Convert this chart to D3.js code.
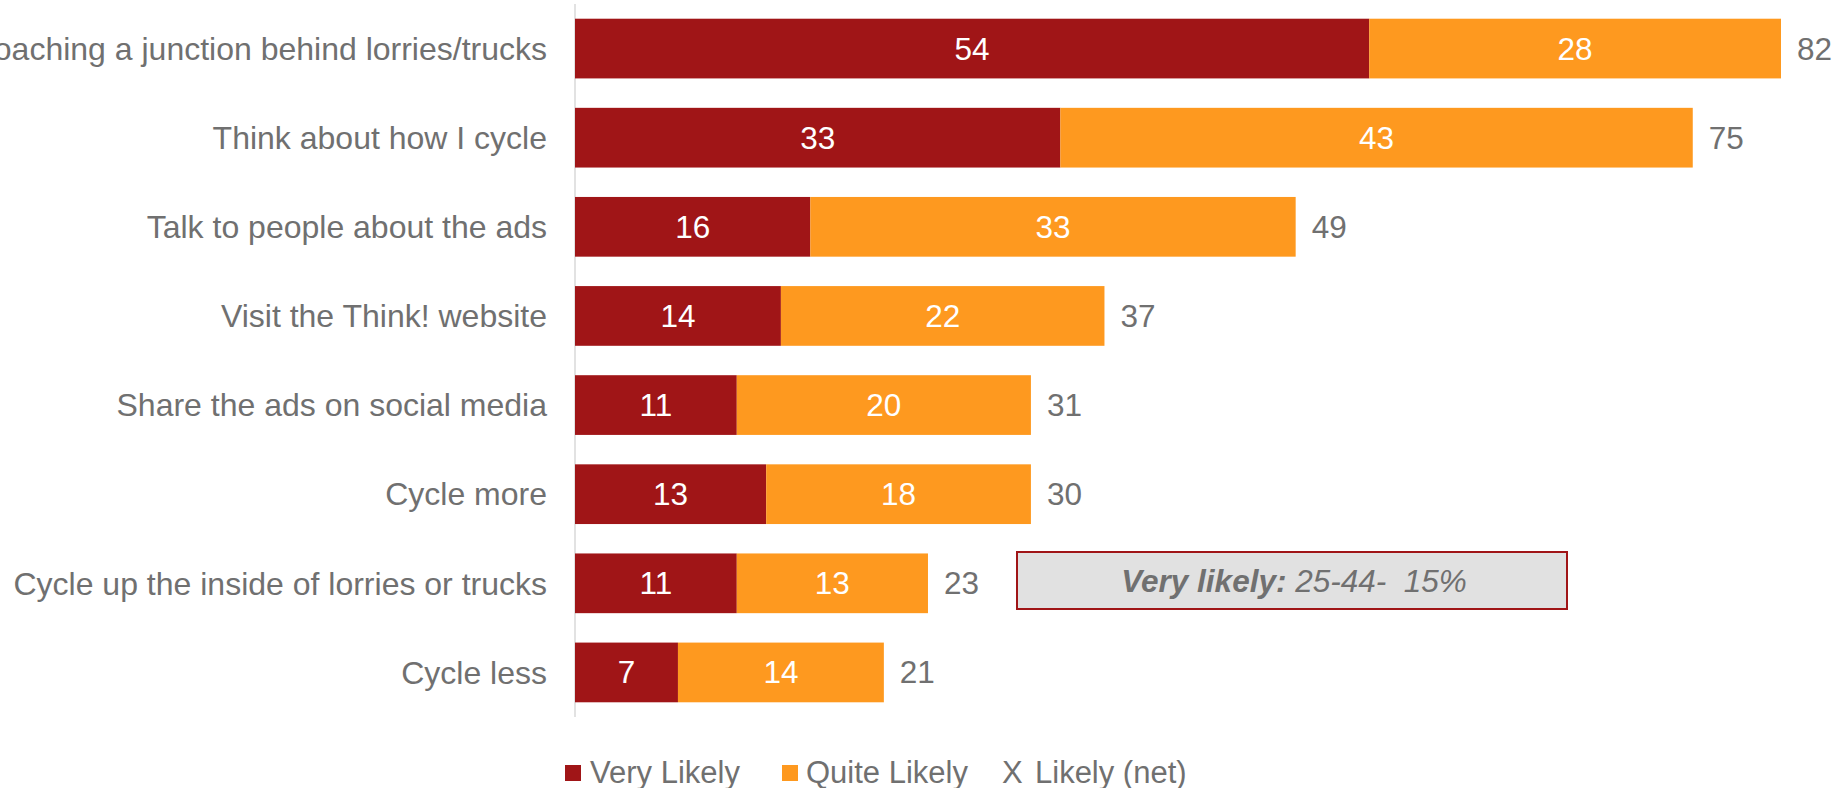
<!DOCTYPE html>
<html lang="en">
<head>
<meta charset="utf-8">
<script src="https://d3js.org/d3.v7.min.js"></script>
<style>
  body { margin: 0; background: #fff; }
  svg text { font-family: "Liberation Sans", Arial, sans-serif; }
</style>
</head>
<body>
<script>
// data
const categories = [
  "Approaching a junction behind lorries/trucks",
  "Think about how I cycle",
  "Talk to people about the ads",
  "Visit the Think! website",
  "Share the ads on social media",
  "Cycle more",
  "Cycle up the inside of lorries or trucks",
  "Cycle less"
];
const veryLikely  = [54, 33, 16, 14, 11, 13, 11, 7];
const quiteLikely = [28, 43, 33, 22, 20, 18, 13, 14];
const likelyNet   = [82, 75, 49, 37, 31, 30, 23, 21];
const seriesNames = ["Very Likely", "Quite Likely", "Likely (net)"];

const W = 1847, H = 788;
const red = "#a01517", orange = "#fe991f", grey = "#707070";

const svg = d3.select("body").append("svg")
  .attr("width", W).attr("height", H);

const x = d3.scaleLinear().domain([0, 82]).range([575, 1781]);
const y = d3.scaleBand().domain(categories).range([4, 717])
  .paddingInner(0.33).paddingOuter(0.165);

// axis line
svg.append("line")
  .attr("x1", x(0)).attr("x2", x(0))
  .attr("y1", 4).attr("y2", 717)
  .attr("stroke", "#d9d9d9").attr("stroke-width", 1.5);

const rows = categories.map((c, i) => ({ c, v: veryLikely[i], q: quiteLikely[i], n: likelyNet[i] }));

// category labels
svg.selectAll(".cat").data(rows).enter().append("text")
  .attr("x", x(0) - 28)
  .attr("y", d => y(d.c) + y.bandwidth() / 2)
  .attr("dy", "0.35em")
  .attr("text-anchor", "end")
  .attr("font-size", 32)
  .attr("fill", grey)
  .text(d => d.c);

// very likely
svg.selectAll(".vl").data(rows).enter().append("rect")
  .attr("x", x(0))
  .attr("y", d => y(d.c))
  .attr("width", d => x(d.v) - x(0))
  .attr("height", y.bandwidth())
  .attr("fill", red);

// quite likely
svg.selectAll(".ql").data(rows).enter().append("rect")
  .attr("x", d => x(d.v))
  .attr("y", d => y(d.c))
  .attr("width", d => x(d.v + d.q) - x(d.v))
  .attr("height", y.bandwidth())
  .attr("fill", orange);

// segment labels
svg.selectAll(".vlt").data(rows).enter().append("text")
  .attr("x", d => (x(0) + x(d.v)) / 2)
  .attr("y", d => y(d.c) + y.bandwidth() / 2)
  .attr("dy", "0.35em")
  .attr("text-anchor", "middle")
  .attr("font-size", 31.5)
  .attr("fill", "#fff")
  .text(d => d.v);

svg.selectAll(".qlt").data(rows).enter().append("text")
  .attr("x", d => (x(d.v) + x(d.v + d.q)) / 2)
  .attr("y", d => y(d.c) + y.bandwidth() / 2)
  .attr("dy", "0.35em")
  .attr("text-anchor", "middle")
  .attr("font-size", 31.5)
  .attr("fill", "#fff")
  .text(d => d.q);

// net totals
svg.selectAll(".net").data(rows).enter().append("text")
  .attr("x", d => x(d.v + d.q) + 16)
  .attr("y", d => y(d.c) + y.bandwidth() / 2)
  .attr("dy", "0.35em")
  .attr("font-size", 31.5)
  .attr("fill", grey)
  .text(d => d.n);

// annotation box
svg.append("rect")
  .attr("x", 1017).attr("y", 552)
  .attr("width", 550).attr("height", 57)
  .attr("fill", "#e1e1e1")
  .attr("stroke", red).attr("stroke-width", 2);

const note = svg.append("text")
  .attr("x", 1294)
  .attr("y", 581)
  .attr("dy", "0.35em")
  .attr("text-anchor", "middle")
  .attr("font-size", 31.5)
  .attr("font-style", "italic")
  .attr("fill", grey)
  .style("white-space", "pre");
note.append("tspan").attr("font-weight", "bold").text("Very likely:");
note.append("tspan").text(" 25-44-  15%");

// legend
const lg = svg.append("g");
lg.append("rect").attr("x", 565).attr("y", 765).attr("width", 16).attr("height", 16).attr("fill", red);
lg.append("text").attr("x", 590).attr("y", 783).attr("font-size", 31).attr("fill", grey).text(seriesNames[0]);
lg.append("rect").attr("x", 782).attr("y", 765).attr("width", 16).attr("height", 16).attr("fill", orange);
lg.append("text").attr("x", 806).attr("y", 783).attr("font-size", 31).attr("fill", grey).text(seriesNames[1]);
lg.append("text").attr("x", 1002).attr("y", 783).attr("font-size", 31).attr("fill", grey).text("X");
lg.append("text").attr("x", 1035).attr("y", 783).attr("font-size", 31).attr("fill", grey).text(seriesNames[2]);
</script>
</body>
</html>
